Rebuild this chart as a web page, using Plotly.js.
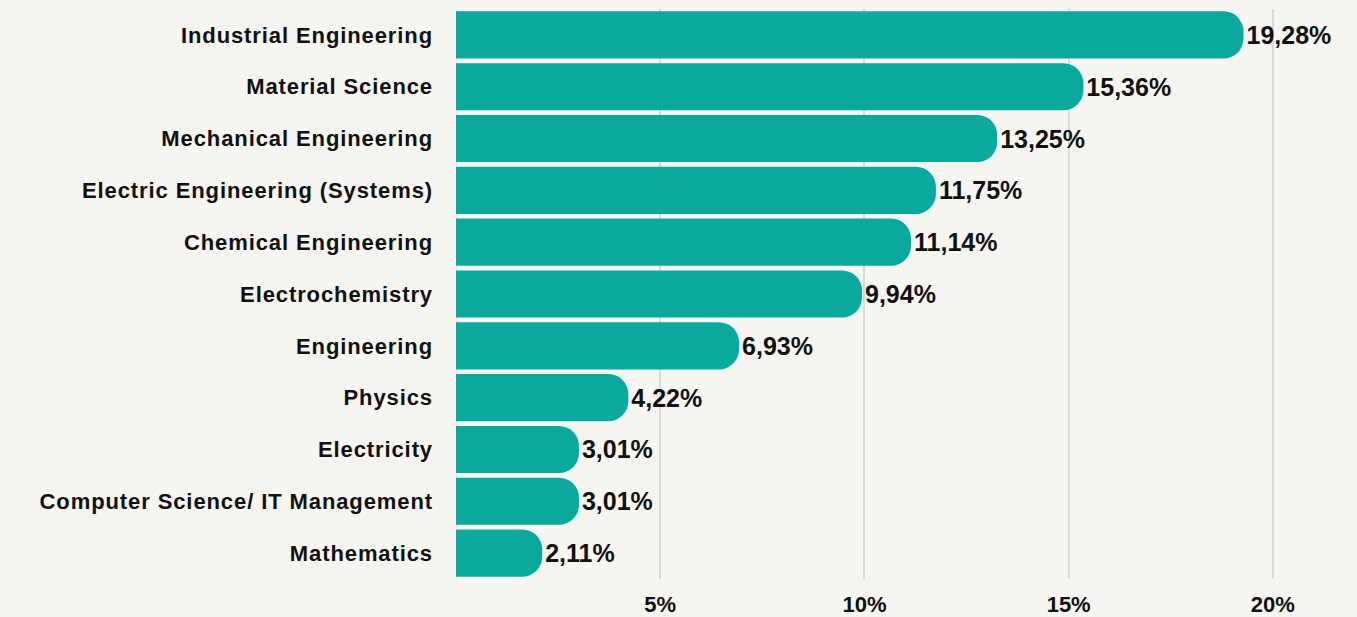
<!DOCTYPE html>
<html>
<head>
<meta charset="utf-8">
<script src="https://cdn.plot.ly/plotly-3.0.1.min.js"></script>
<style>
html,body{margin:0;padding:0;background:#f6f5f0;}
#chart{width:1357px;height:617px;}
#chart .ytick text{letter-spacing:0.9px;}
</style>
</head>
<body>
<div id="chart"></div>
<script>
var categories = [
  "Industrial Engineering",
  "Material Science",
  "Mechanical Engineering",
  "Electric Engineering (Systems)",
  "Chemical Engineering",
  "Electrochemistry",
  "Engineering",
  "Physics",
  "Electricity",
  "Computer Science/ IT Management",
  "Mathematics"
];
var values = [19.28, 15.36, 13.25, 11.75, 11.14, 9.94, 6.93, 4.22, 3.01, 3.01, 2.11];
var tickValues = [5, 10, 15, 20];

var labels = values.map(function(v){ return v.toFixed(2).replace('.', ',') + '%'; });

var trace = {
  type: 'bar',
  orientation: 'h',
  y: categories,
  x: values,
  text: labels,
  textposition: 'outside',
  cliponaxis: false,
  textfont: {family: 'Liberation Sans, Arial, sans-serif', size: 25, color: '#111111', weight: 'bold'},
  marker: {color: '#0aa89d', cornerradius: 20},
  hoverinfo: 'none'
};

var layout = {
  width: 1357,
  height: 617,
  paper_bgcolor: '#f6f5f0',
  plot_bgcolor: '#f6f5f0',
  margin: {l: 456, r: 20, t: 9, b: 38},
  bargap: 0.09,
  showlegend: false,
  font: {family: 'Liberation Sans, Arial, sans-serif', color: '#111111'},
  xaxis: {
    range: [0, 21.57],
    tickvals: tickValues,
    ticktext: tickValues.map(function(t){ return t + '%'; }),
    showgrid: true,
    gridcolor: '#d9d9d6',
    gridwidth: 2,
    zeroline: true,
    zerolinecolor: '#e6e5e0',
    zerolinewidth: 1,
    showline: false,
    ticks: '',
    ticklabelstandoff: 10,
    tickfont: {family: 'Liberation Sans, Arial, sans-serif', size: 22, color: '#111111', weight: 'bold'},
    fixedrange: true
  },
  yaxis: {
    autorange: 'reversed',
    showgrid: false,
    zeroline: false,
    showline: false,
    ticks: '',
    ticklabelstandoff: 22,
    tickfont: {family: 'Liberation Sans, Arial, sans-serif', size: 22, color: '#111111', weight: 'bold'},
    fixedrange: true
  }
};

Plotly.newPlot('chart', [trace], layout, {displayModeBar: false, staticPlot: true});
</script>
</body>
</html>
